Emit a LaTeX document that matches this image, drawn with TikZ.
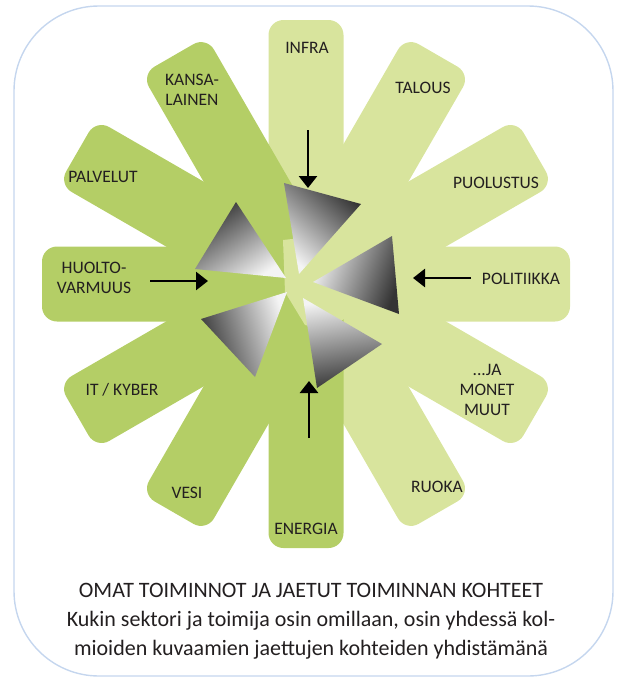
\documentclass[tikz,border=0pt]{standalone}
\usepackage{fontspec}
\setmainfont{Carlito}
\usetikzlibrary{arrows.meta}
\definecolor{darkleaf}{RGB}{180,206,102}
\definecolor{lightleaf}{RGB}{216,228,157}
\definecolor{frameblue}{RGB}{197,214,238}
\definecolor{ink}{RGB}{35,31,32}
\definecolor{tridark}{RGB}{52,52,52}
\definecolor{trilight}{RGB}{244,244,244}
\tikzstyle{lbl}=[%
      text=ink, align=center, inner sep=0pt,
      font=\fontsize{17.5}{20}\selectfont
]
\tikzstyle{push}=[%
      draw=black, line width=2.7pt, -{Triangle[width=18pt,length=12pt]}
]

\begin{document}
\begin{tikzpicture}[x=1pt, y=1pt,
    arm/.style={rounded corners=15pt},
    tri/.style={shading=axis, top color=tridark, bottom color=trilight},
]
    \useasboundingbox (0,0) rectangle (617,-681);
    \draw[frameblue, line width=1.4pt, rounded corners=85pt] (14,-6) rectangle (613,-676);

    % arms: light ones first, dark ones over them
    \begin{scope}[shift={(306,-284)}]
    \foreach \a in {90,60,30,0,-30,-60}
        \fill[lightleaf, arm, rotate=\a] (0,-37.5) rectangle (264,37.5);
    \foreach \a in {120,150,180,210,240,270}
        \fill[darkleaf, arm, rotate=\a] (0,-37.5) rectangle (264,37.5);
    \end{scope}
    \fill[lightleaf] (283,-240) -- (320,-236) -- (345,-250) -- (350,-284)
        -- (345,-318) -- (330,-330) -- (305,-325) -- (285,-292) -- cycle;

    % shared targets
    \shade[tri, shading angle=-41.5] (284,-183) -- (361,-204) -- (299,-274) -- cycle;
    \shade[tri, shading angle=-110.4] (392,-236) -- (399,-314) -- (313,-282) -- cycle;
    \shade[tri, shading angle=-171] (303,-298) -- (382,-344) -- (317,-388) -- cycle;
    \shade[tri, shading angle=107.4] (201,-319) -- (287,-292) -- (255,-377) -- cycle;
    \shade[tri, shading angle=33.3] (236,-202) -- (195,-269) -- (286,-278) -- cycle;

    \node[lbl] (infra)   at (307,-48)  {INFRA};
    \node[lbl] (talous)  at (423,-88)  {TALOUS};
    \node[lbl] (puol)    at (496,-183) {PUOLUSTUS};
    \node[lbl] (polit)   at (521,-279) {POLITIIKKA};
    \node[lbl] (muut)    at (487,-390) {...JA\\MONET\\MUUT};
    \node[lbl] (ruoka)   at (437,-487) {RUOKA};
    \node[lbl] (energia) at (306,-529) {ENERGIA};
    \node[lbl] (vesi)    at (187,-493) {VESI};
    \node[lbl] (kyber)   at (122,-390) {IT / KYBER};
    \node[lbl] (huolto)  at (94,-278)  {HUOLTO-\\VARMUUS};
    \node[lbl] (palv)    at (103,-177) {PALVELUT};
    \node[lbl] (kansa)   at (192,-90)  {KANSA-\\LAINEN};

    \coordinate (infraT) at (308,-130);  \coordinate (infraH) at (308,-188);
    \coordinate (huoltoT) at (150,-281); \coordinate (huoltoH) at (208,-281);
    \coordinate (politT) at (471,-278);  \coordinate (politH) at (413,-278);
    \coordinate (energT) at (309,-438);  \coordinate (energH) at (309,-381);
    \draw[push] (infraT) -- (infraH);
    \draw[push] (huoltoT) -- (huoltoH);
    \draw[push] (politT) -- (politH);
    \draw[push] (energT) -- (energH);

    \node[text=ink, align=center, font=\fontsize{22}{29}\selectfont] (caption) at (311,-621)
        {OMAT TOIMINNOT JA JAETUT TOIMINNAN KOHTEET\\
         Kukin sektori ja toimija osin omillaan, osin yhdessä kol-\\
         mioiden kuvaamien jaettujen kohteiden yhdistämänä};
\end{tikzpicture}
\end{document}
